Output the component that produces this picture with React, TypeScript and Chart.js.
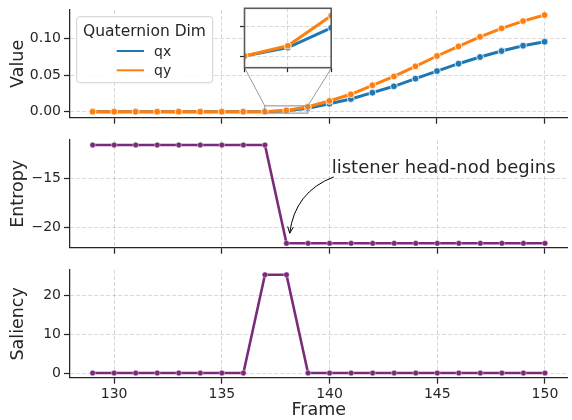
import React, { useEffect, useRef } from "react";
import { Chart, registerables } from "chart.js";

Chart.register(...registerables);

// ---------------- data ----------------
const frames = [129, 130, 131, 132, 133, 134, 135, 136, 137, 138, 139, 140, 141, 142, 143, 144, 145, 146, 147, 148, 149, 150];
const qx = [0, 0, 0, 0, 0, 0, 0, 0, 0, 0.0014, 0.0047, 0.0109, 0.0173, 0.0259, 0.0346, 0.045, 0.0554, 0.0654, 0.0745, 0.0827, 0.0899, 0.0953];
const qy = [0, 0, 0, 0, 0, 0, 0, 0, 0, 0.0017, 0.0067, 0.0146, 0.0237, 0.036, 0.048, 0.0618, 0.0759, 0.089, 0.102, 0.1136, 0.1235, 0.1317];
const entropy = [-11.6, -11.6, -11.6, -11.6, -11.6, -11.6, -11.6, -11.6, -11.6, -21.63, -21.63, -21.63, -21.63, -21.63, -21.63, -21.63, -21.63, -21.63, -21.63, -21.63, -21.63, -21.63];
const saliency = [0, 0, 0, 0, 0, 0, 0, 0, 25.4, 25.4, 0, 0, 0, 0, 0, 0, 0, 0, 0, 0, 0, 0];

const xTicks = [130, 135, 140, 145, 150];
const valueTicks = [0, 0.05, 0.1];
const entropyTicks = [-20, -15];
const saliencyTicks = [0, 10, 20];
const insetXTicks = [137, 138, 139];
const insetYTicks = [0, 0.005];

const X_RANGE = [127.95, 151.05];
const VALUE_RANGE = [-0.0082, 0.1386];
const ENTROPY_RANGE = [-22.08, -11.09];
const SALIENCY_RANGE = [-1.21, 26.64];
const INSET_X_RANGE = [137, 139];
const INSET_Y_RANGE = [-0.00195, 0.00795];

const seriesNames = ["qx", "qy"];
const legendTitle = "Quaternion Dim";
const annotationText = "listener head-nod begins";
const annotationTextAt = [140.1, -14.5];
const annotationArrowTo = [138.15, -20.6];

// ---------------- style ----------------
const FONT = "'DejaVu Sans', sans-serif";
const INK = "#262626";
const GRID = "rgba(0,0,0,0.15)";
const BLUE = "#1f77b4";
const ORANGE = "#ff7f0e";
const PURPLE = "#7b2a7b";
const INSET_EDGE = "#5a5a5a";

// inset chart-area in page pixels (layout)
const INSET = { left: 244.5, top: 8.3, right: 331.7, bottom: 67.7 };

const pts = (ys: number[]) => frames.map((f, i) => ({ x: f, y: ys[i] }));

function qDataset(label: string, ys: number[], color: string, order: number) {
  return {
    label,
    data: pts(ys),
    borderColor: color,
    backgroundColor: color,
    borderWidth: 3,
    pointRadius: 3.4,
    pointBackgroundColor: color,
    pointBorderColor: "#ffffff",
    pointBorderWidth: 0.8,
    tension: 0,
    fill: false,
    order,
  };
}

function purpleDataset(label: string, ys: number[]) {
  return {
    label,
    data: pts(ys),
    borderColor: PURPLE,
    backgroundColor: PURPLE,
    borderWidth: 2.6,
    pointRadius: 2.8,
    pointBackgroundColor: PURPLE,
    pointBorderColor: "#ffffff",
    pointBorderWidth: 0.4,
    tension: 0,
    fill: false,
  };
}

function makeScales(o: {
  yRange: number[];
  yTicks: number[];
  yFmt: (v: number) => string;
  yTitle: string;
  bottom: boolean;
}) {
  return {
    x: {
      type: "linear",
      min: X_RANGE[0],
      max: X_RANGE[1],
      afterBuildTicks: (s: any) => {
        s.ticks = xTicks.map((v) => ({ value: v }));
      },
      afterFit: (s: any) => {
        s.height = o.bottom ? 42.3 : 6.3;
        s.paddingLeft = 0;
        s.paddingRight = 0;
      },
      ticks: {
        display: o.bottom,
        color: INK,
        font: { family: FONT, size: 14 },
        padding: 2,
        maxRotation: 0,
        autoSkip: false,
        callback: (v: any) => String(v),
      },
      grid: {
        color: GRID,
        lineWidth: 1,
        drawTicks: true,
        tickLength: 6,
        tickColor: INK,
        tickWidth: 1.25,
        tickBorderDash: [],
      },
      border: { display: true, color: INK, width: 1.25, dash: [4, 2] },
      title: {
        display: o.bottom,
        text: "Frame",
        color: INK,
        font: { family: FONT, size: 17.5, lineHeight: 1 },
        padding: { top: 0, bottom: 0.5 },
      },
    },
    y: {
      type: "linear",
      min: o.yRange[0],
      max: o.yRange[1],
      afterBuildTicks: (s: any) => {
        s.ticks = o.yTicks.map((v) => ({ value: v }));
      },
      afterFit: (s: any) => {
        s.width = 70;
        s.paddingTop = 0;
        s.paddingBottom = 0;
      },
      ticks: {
        color: INK,
        font: { family: FONT, size: 14 },
        padding: 3,
        callback: (v: any) => o.yFmt(Number(v)),
      },
      grid: {
        color: GRID,
        lineWidth: 1,
        drawTicks: true,
        tickLength: 6,
        tickColor: INK,
        tickWidth: 1.25,
        tickBorderDash: [],
      },
      border: { display: true, color: INK, width: 1.25, dash: [4, 2] },
      title: {
        display: true,
        text: o.yTitle,
        color: INK,
        font: { family: FONT, size: 17.5, lineHeight: 1.2 },
        padding: { top: 7.5, bottom: 0 },
      },
    },
  };
}

function baseOptions(scales: any, padBottom = 0) {
  return {
    animation: false,
    responsive: false,
    devicePixelRatio: 1,
    events: [],
    layout: { padding: { top: 10, left: 0, right: 0, bottom: padBottom } },
    plugins: { legend: { display: false }, tooltip: { enabled: false } },
    scales,
  };
}

function roundRectPath(ctx: CanvasRenderingContext2D, x: number, y: number, w: number, h: number, r: number) {
  ctx.beginPath();
  ctx.moveTo(x + r, y);
  ctx.lineTo(x + w - r, y);
  ctx.arcTo(x + w, y, x + w, y + r, r);
  ctx.lineTo(x + w, y + h - r);
  ctx.arcTo(x + w, y + h, x + w - r, y + h, r);
  ctx.lineTo(x + r, y + h);
  ctx.arcTo(x, y + h, x, y + h - r, r);
  ctx.lineTo(x, y + r);
  ctx.arcTo(x, y, x + r, y, r);
  ctx.closePath();
}

// zoom rectangle + connector lines, and legend (panel 1)
const topPanelPlugin = {
  id: "topPanelExtras",
  afterDatasetsDraw(chart: any) {
    const { ctx, scales } = chart;
    const x = scales.x;
    const y = scales.y;
    const rx1 = x.getPixelForValue(INSET_X_RANGE[0]);
    const rx2 = x.getPixelForValue(INSET_X_RANGE[1]);
    const ry1 = y.getPixelForValue(INSET_Y_RANGE[1]);
    const ry2 = y.getPixelForValue(INSET_Y_RANGE[0]);
    ctx.save();
    ctx.strokeStyle = "#8c8c8c";
    ctx.lineWidth = 1;
    ctx.strokeRect(rx1, ry1, rx2 - rx1, ry2 - ry1);
    ctx.strokeStyle = "#9a9a9a";
    ctx.beginPath();
    ctx.moveTo(INSET.left, INSET.bottom);
    ctx.lineTo(rx1, ry1);
    ctx.moveTo(INSET.right, INSET.bottom);
    ctx.lineTo(rx2, ry1);
    ctx.stroke();
    ctx.restore();
  },
  afterDraw(chart: any) {
    const ctx: CanvasRenderingContext2D = chart.ctx;
    ctx.save();
    roundRectPath(ctx, 76.7, 16.7, 136, 66, 3);
    ctx.fillStyle = "rgba(255,255,255,0.85)";
    ctx.fill();
    ctx.strokeStyle = "#d0d0d0";
    ctx.lineWidth = 1;
    ctx.stroke();
    ctx.fillStyle = INK;
    ctx.font = `15.5px ${FONT}`;
    ctx.textAlign = "center";
    ctx.textBaseline = "alphabetic";
    ctx.fillText(legendTitle, 144.5, 36.3);
    const colors = [BLUE, ORANGE];
    seriesNames.forEach((name, i) => {
      const ly = 51 + i * 19.3;
      ctx.strokeStyle = colors[i];
      ctx.lineWidth = 2;
      ctx.beginPath();
      ctx.moveTo(116.7, ly);
      ctx.lineTo(144, ly);
      ctx.stroke();
      ctx.fillStyle = INK;
      ctx.font = `14px ${FONT}`;
      ctx.textAlign = "left";
      ctx.fillText(name, 154, 56 + i * 19.3);
    });
    ctx.restore();
  },
};

// annotation (panel 2)
const annotationPlugin = {
  id: "annotation",
  afterDatasetsDraw(chart: any) {
    const { ctx, scales } = chart;
    const x = scales.x;
    const y = scales.y;
    const tx = x.getPixelForValue(annotationTextAt[0]);
    const ty = y.getPixelForValue(annotationTextAt[1]);
    ctx.save();
    ctx.font = `18px ${FONT}`;
    ctx.fillStyle = INK;
    ctx.textAlign = "left";
    ctx.textBaseline = "alphabetic";
    ctx.fillText(annotationText, tx, ty);

    const sx = tx + 2;
    const sy = ty + 3.5;
    const ex = x.getPixelForValue(annotationArrowTo[0]);
    const ey = y.getPixelForValue(annotationArrowTo[1]);
    const mx = (sx + ex) / 2;
    const my = (sy + ey) / 2;
    const dx = ex - sx;
    const dy = ey - sy;
    const rad = 0.3;
    const cx = mx - rad * dy;
    const cy = my + rad * dx;
    ctx.strokeStyle = "#000000";
    ctx.lineWidth = 1;
    ctx.beginPath();
    ctx.moveTo(sx, sy);
    ctx.quadraticCurveTo(cx, cy, ex, ey);
    ctx.stroke();
    // open arrow head
    const ang = Math.atan2(ey - cy, ex - cx);
    const hl = 7;
    const ha = 0.42;
    ctx.beginPath();
    ctx.moveTo(ex - hl * Math.cos(ang - ha), ey - hl * Math.sin(ang - ha));
    ctx.lineTo(ex, ey);
    ctx.lineTo(ex - hl * Math.cos(ang + ha), ey - hl * Math.sin(ang + ha));
    ctx.stroke();
    ctx.restore();
  },
};

// inset background + frame
const insetPlugin = {
  id: "insetFrame",
  beforeDraw(chart: any) {
    const { ctx, chartArea: a } = chart;
    ctx.save();
    ctx.fillStyle = "#ffffff";
    ctx.fillRect(a.left, a.top, a.right - a.left, a.bottom - a.top);
    ctx.restore();
  },
  afterDraw(chart: any) {
    const { ctx, chartArea: a } = chart;
    ctx.save();
    ctx.strokeStyle = INSET_EDGE;
    ctx.lineWidth = 1.6;
    ctx.strokeRect(a.left, a.top, a.right - a.left, a.bottom - a.top);
    ctx.restore();
  },
};

export default function App() {
  const r1 = useRef<HTMLCanvasElement>(null);
  const r2 = useRef<HTMLCanvasElement>(null);
  const r3 = useRef<HTMLCanvasElement>(null);
  const r4 = useRef<HTMLCanvasElement>(null);

  useEffect(() => {
    const charts: Chart[] = [];

    charts.push(
      new Chart(r1.current as HTMLCanvasElement, {
        type: "line",
        data: {
          datasets: [
            qDataset(seriesNames[0], qx, BLUE, 1),
            qDataset(seriesNames[1], qy, ORANGE, 0),
          ],
        },
        options: baseOptions(
          makeScales({
            yRange: VALUE_RANGE,
            yTicks: valueTicks,
            yFmt: (v) => v.toFixed(2),
            yTitle: "Value",
            bottom: false,
          })
        ) as any,
        plugins: [topPanelPlugin],
      } as any)
    );

    charts.push(
      new Chart(r2.current as HTMLCanvasElement, {
        type: "line",
        data: { datasets: [purpleDataset("Entropy", entropy)] },
        options: baseOptions(
          makeScales({
            yRange: ENTROPY_RANGE,
            yTicks: entropyTicks,
            yFmt: (v) => (v < 0 ? "\u2212" + Math.abs(v) : String(v)),
            yTitle: "Entropy",
            bottom: false,
          })
        ) as any,
        plugins: [annotationPlugin],
      } as any)
    );

    charts.push(
      new Chart(r3.current as HTMLCanvasElement, {
        type: "line",
        data: { datasets: [purpleDataset("Saliency", saliency)] },
        options: baseOptions(
          makeScales({
            yRange: SALIENCY_RANGE,
            yTicks: saliencyTicks,
            yFmt: (v) => String(v),
            yTitle: "Saliency",
            bottom: true,
          })
        ) as any,
      } as any)
    );

    const insetQx = { ...qDataset(seriesNames[0], qx, BLUE, 1), clip: 0 };
    const insetQy = { ...qDataset(seriesNames[1], qy, ORANGE, 0), clip: 0 };
    charts.push(
      new Chart(r4.current as HTMLCanvasElement, {
        type: "line",
        data: { datasets: [insetQx, insetQy] },
        options: {
          animation: false,
          responsive: false,
          devicePixelRatio: 1,
          events: [],
          layout: {
            padding: {
              left: INSET.left - 236 - 4.5,
              top: INSET.top,
              right: 336 - INSET.right,
              bottom: 76 - INSET.bottom - 4.5,
            },
          },
          plugins: { legend: { display: false }, tooltip: { enabled: false } },
          scales: {
            x: {
              type: "linear",
              min: INSET_X_RANGE[0],
              max: INSET_X_RANGE[1],
              afterBuildTicks: (s: any) => {
                s.ticks = insetXTicks.map((v) => ({ value: v }));
              },
              afterFit: (s: any) => {
                s.height = 4.5;
                s.paddingLeft = 0;
                s.paddingRight = 0;
              },
              ticks: { display: false },
              grid: { color: GRID, lineWidth: 1, tickLength: 4.5, tickColor: INK, tickWidth: 1.2, tickBorderDash: [] },
              border: { display: false, dash: [4, 2] },
            },
            y: {
              type: "linear",
              min: INSET_Y_RANGE[0],
              max: INSET_Y_RANGE[1],
              afterBuildTicks: (s: any) => {
                s.ticks = insetYTicks.map((v) => ({ value: v }));
              },
              afterFit: (s: any) => {
                s.width = 4.5;
                s.paddingTop = 0;
                s.paddingBottom = 0;
              },
              ticks: { display: false },
              grid: { color: GRID, lineWidth: 1, tickLength: 4.5, tickColor: INK, tickWidth: 1.2, tickBorderDash: [] },
              border: { display: false, dash: [4, 2] },
            },
          },
        } as any,
        plugins: [insetPlugin],
      } as any)
    );

    return () => charts.forEach((c) => c.destroy());
  }, []);

  const abs = (left: number, top: number): React.CSSProperties => ({
    position: "absolute",
    left,
    top,
    display: "block",
  });

  return (
    <div style={{ position: "absolute", left: 0, top: 0, width: 572, height: 420, background: "#ffffff", overflow: "hidden" }}>
      <canvas ref={r1} width={572} height={124} style={abs(0, 0)} />
      <canvas ref={r2} width={572} height={124} style={abs(0, 130)} />
      <canvas ref={r3} width={572} height={160} style={abs(0, 260)} />
      <canvas ref={r4} width={100} height={76} style={abs(236, 0)} />
    </div>
  );
}
